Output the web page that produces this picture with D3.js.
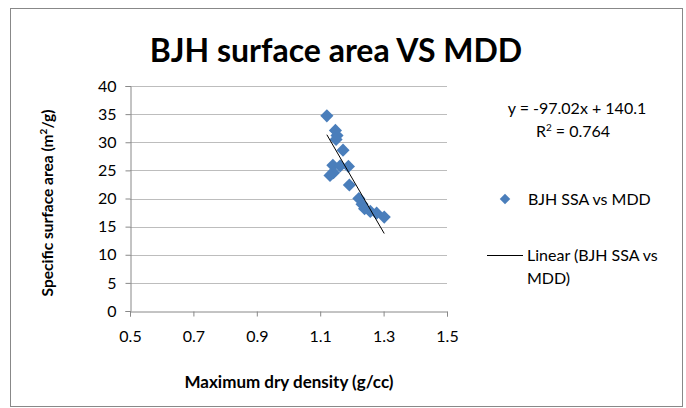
<!doctype html>
<html lang="en">
<head>
<meta charset="utf-8">
<title>BJH surface area VS MDD</title>
<script src="https://cdn.jsdelivr.net/npm/d3@7"></script>
<style>
  body { margin: 0; background: #fff; }
  text { font-family: Lato, "Open Sans", sans-serif; fill: #000; }
</style>
</head>
<body>
<script>
// data
var mdd = [1.121, 1.148, 1.153, 1.150, 1.172, 1.140, 1.163, 1.189, 1.142, 1.131, 1.192, 1.222, 1.232, 1.240, 1.258, 1.278, 1.302];
var ssa = [34.7, 32.1, 31.2, 30.5, 28.6, 25.9, 25.8, 25.7, 24.6, 24.1, 22.4, 20.0, 19.0, 18.2, 17.7, 17.4, 16.7];
var xTicks = [0.5, 0.7, 0.9, 1.1, 1.3, 1.5];
var yTicks = [0, 5, 10, 15, 20, 25, 30, 35, 40];
var slope = -97.02, intercept = 140.1;

var W = 686, H = 408;
var svg = d3.select("body").append("svg").attr("width", W).attr("height", H);

svg.append("rect")
   .attr("x", 10.5).attr("y", 8.5)
   .attr("width", 672).attr("height", 398)
   .attr("fill", "#fff").attr("stroke", "#888");

var xScale = d3.scaleLinear().domain([0.5, 1.5]).range([130, 447]);
var yScale = d3.scaleLinear().domain([0, 40]).range([311, 86]);

// gridlines
svg.append("g").selectAll("line")
   .data(yTicks.filter(d => d > 0))
   .enter().append("line")
   .attr("x1", xScale(0.5)).attr("x2", xScale(1.5))
   .attr("y1", d => Math.round(yScale(d)) + 0.5)
   .attr("y2", d => Math.round(yScale(d)) + 0.5)
   .attr("stroke", "#bdbdbd");

var xAxis = d3.axisBottom(xScale).tickValues(xTicks).tickSize(5).tickPadding(14).tickFormat(d3.format(".1f"));
var yAxis = d3.axisLeft(yScale).tickValues(yTicks).tickSize(5).tickPadding(9);

var gx = svg.append("g").attr("transform", "translate(0," + (Math.round(yScale(0)) + 0.5) + ")").call(xAxis);
var gy = svg.append("g").attr("transform", "translate(" + (Math.round(xScale(0.5)) + 0.5) + ",0)").call(yAxis);
[gx, gy].forEach(function(g) {
    g.select(".domain").attr("stroke", "#888");
    g.selectAll(".tick line").attr("stroke", "#888");
    g.selectAll(".tick text").style("font-size", "16px").attr("fill", "#000");
});

// points
var pts = mdd.map((x, i) => ({x: x, y: ssa[i]}));
var diamond = d3.symbol().type(d3.symbolDiamond2).size(110);
svg.append("g").selectAll("path")
   .data(pts).enter().append("path")
   .attr("d", diamond)
   .attr("transform", d => "translate(" + xScale(d.x) + "," + yScale(d.y) + ")")
   .attr("fill", "#4a7ebb");

// linear trendline
var x0 = d3.min(mdd), x1 = d3.max(mdd);
svg.append("line")
   .attr("x1", xScale(x0)).attr("y1", yScale(slope * x0 + intercept))
   .attr("x2", xScale(x1)).attr("y2", yScale(slope * x1 + intercept))
   .attr("stroke", "#000").attr("stroke-width", 1);

// title
svg.append("text").attr("x", 336).attr("y", 62)
   .attr("text-anchor", "middle")
   .style("font-size", "32px").style("font-weight", "bold")
   .text("BJH surface area VS MDD");

// axis titles
svg.append("text").attr("x", 289).attr("y", 388)
   .attr("text-anchor", "middle")
   .style("font-size", "17px").style("font-weight", "bold")
   .text("Maximum dry density (g/cc)");

var yt = svg.append("text")
   .attr("transform", "translate(53,203) rotate(-90)")
   .attr("text-anchor", "middle")
   .style("font-size", "15.5px").style("font-weight", "bold");
yt.append("tspan").text("Specific surface area (m");
yt.append("tspan").attr("dy", -6).style("font-size", "10px").text("2");
yt.append("tspan").attr("dy", 6).text("/g)");

// equation
svg.append("text").attr("x", 577).attr("y", 114)
   .attr("text-anchor", "middle").style("font-size", "16px")
   .text("y = -97.02x + 140.1");
var r2 = svg.append("text").attr("x", 573).attr("y", 137)
   .attr("text-anchor", "middle").style("font-size", "16px");
r2.append("tspan").text("R");
r2.append("tspan").attr("dy", -6).style("font-size", "10px").text("2");
r2.append("tspan").attr("dy", 6).text(" = 0.764");

// legend
svg.append("path").attr("d", d3.symbol().type(d3.symbolDiamond2).size(70))
   .attr("transform", "translate(505,199)").attr("fill", "#4a7ebb");
svg.append("text").attr("x", 528).attr("y", 205).style("font-size", "16px")
   .text("BJH SSA vs MDD");
svg.append("line").attr("x1", 487).attr("x2", 523).attr("y1", 255.5).attr("y2", 255.5)
   .attr("stroke", "#000");
svg.append("text").attr("x", 527).attr("y", 261).style("font-size", "16px")
   .text("Linear (BJH SSA vs");
svg.append("text").attr("x", 527).attr("y", 284).style("font-size", "16px")
   .text("MDD)");
</script>
</body>
</html>
